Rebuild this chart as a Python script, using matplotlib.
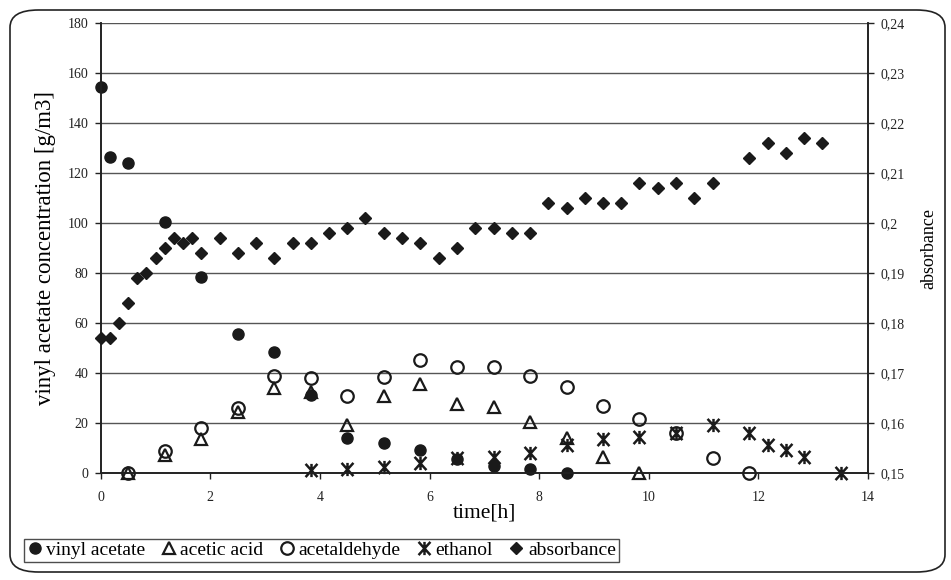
import matplotlib
matplotlib.use("Agg")
import matplotlib.pyplot as plt
from matplotlib.lines import Line2D
from matplotlib.patches import FancyBboxPatch
from matplotlib.path import Path
from matplotlib.ticker import FuncFormatter

plt.rcParams['font.family'] = ['Liberation Serif', 'DejaVu Serif']

# vinyl acetate concentration [g/m3]
t_va = [0, 0.17, 0.5, 1.17, 1.83, 2.5, 3.17, 3.83, 4.5, 5.17, 5.83, 6.5, 7.17, 7.83, 8.5]
va = [154.5, 126.7, 124, 100.6, 78.6, 55.6, 48.5, 31, 13.8, 12, 9.1, 5.4, 2.7, 1.4, 0]

# acetic acid
t_aa = [0.5, 1.17, 1.83, 2.5, 3.17, 3.83, 4.5, 5.17, 5.83, 6.5, 7.17, 7.83, 8.5, 9.17, 9.83]
aa = [0, 7.1, 13.4, 24.2, 33.8, 32.5, 19.1, 30.7, 35.5, 27.4, 26.5, 20.5, 13.8, 6.4, 0]

# acetaldehyde
t_ald = [0.5, 1.17, 1.83, 2.5, 3.17, 3.83, 4.5, 5.17, 5.83, 6.5, 7.17, 7.83, 8.5,
         9.17, 9.83, 10.5, 11.17, 11.83]
ald = [0, 8.7, 18, 26.1, 38.9, 38.1, 30.9, 38.5, 45.2, 42.5, 42.2, 38.9, 34.2,
       26.9, 21.5, 15.8, 5.8, 0]

# ethanol
t_et = [3.83, 4.5, 5.17, 5.83, 6.5, 7.17, 7.83, 8.5, 9.17, 9.83, 10.5, 11.17,
        11.83, 12.17, 12.5, 12.83, 13.5]
et = [1.1, 1.5, 2.4, 3.8, 5.8, 6.4, 7.8, 11.1, 13.5, 14.4, 16, 19.1,
      15.8, 11.1, 9.1, 6.4, 0]

# absorbance (right axis)
t_abs = [0, 0.17, 0.33, 0.5, 0.67, 0.83, 1.0, 1.17, 1.33, 1.5, 1.67, 1.83,
         2.17, 2.5, 2.83, 3.17, 3.5, 3.83, 4.17, 4.5, 4.83, 5.17, 5.5, 5.83,
         6.17, 6.5, 6.83, 7.17, 7.5, 7.83, 8.17, 8.5, 8.83, 9.17, 9.5, 9.83,
         10.17, 10.5, 10.83, 11.17, 11.83, 12.17, 12.5, 12.83, 13.17]
absorb = [0.177, 0.177, 0.180, 0.184, 0.189, 0.190, 0.193, 0.195, 0.197, 0.196, 0.197, 0.194,
          0.197, 0.194, 0.196, 0.193, 0.196, 0.196, 0.198, 0.199, 0.201, 0.198, 0.197, 0.196,
          0.193, 0.195, 0.199, 0.199, 0.198, 0.198, 0.204, 0.203, 0.205, 0.204, 0.204, 0.208,
          0.207, 0.208, 0.205, 0.208, 0.213, 0.216, 0.214, 0.217, 0.216]

left_ticks = list(range(0, 181, 20))
right_ticks = [0.15, 0.16, 0.17, 0.18, 0.19, 0.20, 0.21, 0.22, 0.23, 0.24]
x_ticks = list(range(0, 15, 2))

# asterisk marker: vertical bar plus a square X
star = Path([(0, -1), (0, 1), (-0.9, -1), (0.9, 1), (-0.9, 1), (0.9, -1)],
            [Path.MOVETO, Path.LINETO] * 3)

fig = plt.figure(figsize=(9.51, 5.8), dpi=100)
ax = fig.add_axes([0.1059, 0.185, 0.8068, 0.7745])
ax2 = ax.twinx()

# outer rounded frame
frame = FancyBboxPatch((10 / 951, 8 / 580), 935 / 951, 562 / 580,
                       boxstyle="round,pad=0,rounding_size=0.03",
                       transform=fig.transFigure, fill=False, ec='#222222', lw=1.2)
fig.patches.append(frame)

ax.set_xlim(0, 14)
ax.set_ylim(0, 180)
ax2.set_ylim(0.15, 0.24)
ax.set_yticks(left_ticks)
ax2.set_yticks(right_ticks)
ax.set_xticks(x_ticks)
ax.grid(axis='y', color='#555555', lw=1.0)
ax.set_axisbelow(True)

ms = 8
ax.plot(t_va, va, 'o', color='#1a1a1a', ms=ms, zorder=3, clip_on=False)
ax.plot(t_aa, aa, '^', mfc='none', mec='#1a1a1a', mew=1.6, ms=ms + 1, zorder=3, clip_on=False)
ax.plot(t_ald, ald, 'o', mfc='none', mec='#1a1a1a', mew=1.6, ms=ms + 1, zorder=3, clip_on=False)
ax.plot(t_et, et, marker=star, ls='none', color='#1a1a1a', mew=1.8, ms=ms + 1.5, zorder=3, clip_on=False)
ax2.plot(t_abs, absorb, 'D', color='#1a1a1a', ms=6.5, zorder=3, clip_on=False)

for a in (ax, ax2):
    for s in a.spines.values():
        s.set_color('#222222')
        s.set_linewidth(1.2)
ax.spines['top'].set_visible(False)
ax2.spines['top'].set_visible(False)

ax.tick_params(axis='y', direction='out', length=4, width=1, labelsize=10, colors='#222222', pad=5)
ax.tick_params(axis='x', direction='out', length=4, width=1, labelsize=10, colors='#222222', pad=9)
ax2.tick_params(axis='y', direction='out', length=4, width=1, labelsize=10, colors='#222222', pad=5)
ax2.yaxis.set_major_formatter(FuncFormatter(lambda v, p: f"{v:g}".replace('.', ',')))

ax.set_xlabel('time[h]', fontsize=15.5, labelpad=0)
ax.set_ylabel('vinyl acetate concentration [g/m3]', fontsize=16.5, labelpad=8)
ax2.set_ylabel('absorbance', fontsize=13, labelpad=11)

handles = [
    Line2D([], [], marker='o', ls='none', color='#1a1a1a', ms=8),
    Line2D([], [], marker='^', ls='none', mfc='none', mec='#1a1a1a', mew=1.6, ms=9),
    Line2D([], [], marker='o', ls='none', mfc='none', mec='#1a1a1a', mew=1.6, ms=9),
    Line2D([], [], marker=star, ls='none', color='#1a1a1a', mew=1.8, ms=9.5),
    Line2D([], [], marker='D', ls='none', color='#1a1a1a', ms=6.5),
]
labels = ['vinyl acetate', 'acetic acid', 'acetaldehyde', 'ethanol', 'absorbance']
leg = fig.legend(handles, labels, loc='lower left', bbox_to_anchor=(24 / 951, 18 / 580),
                 ncol=5, prop={'family': ['Liberation Serif'], 'size': 14},
                 frameon=True, fancybox=False, borderpad=0.15,
                 handlelength=0.8, handletextpad=0.2, columnspacing=0.8, borderaxespad=0)
leg.get_frame().set_edgecolor('#222222')
leg.get_frame().set_linewidth(1.0)

fig.savefig('out.png', dpi=100)
